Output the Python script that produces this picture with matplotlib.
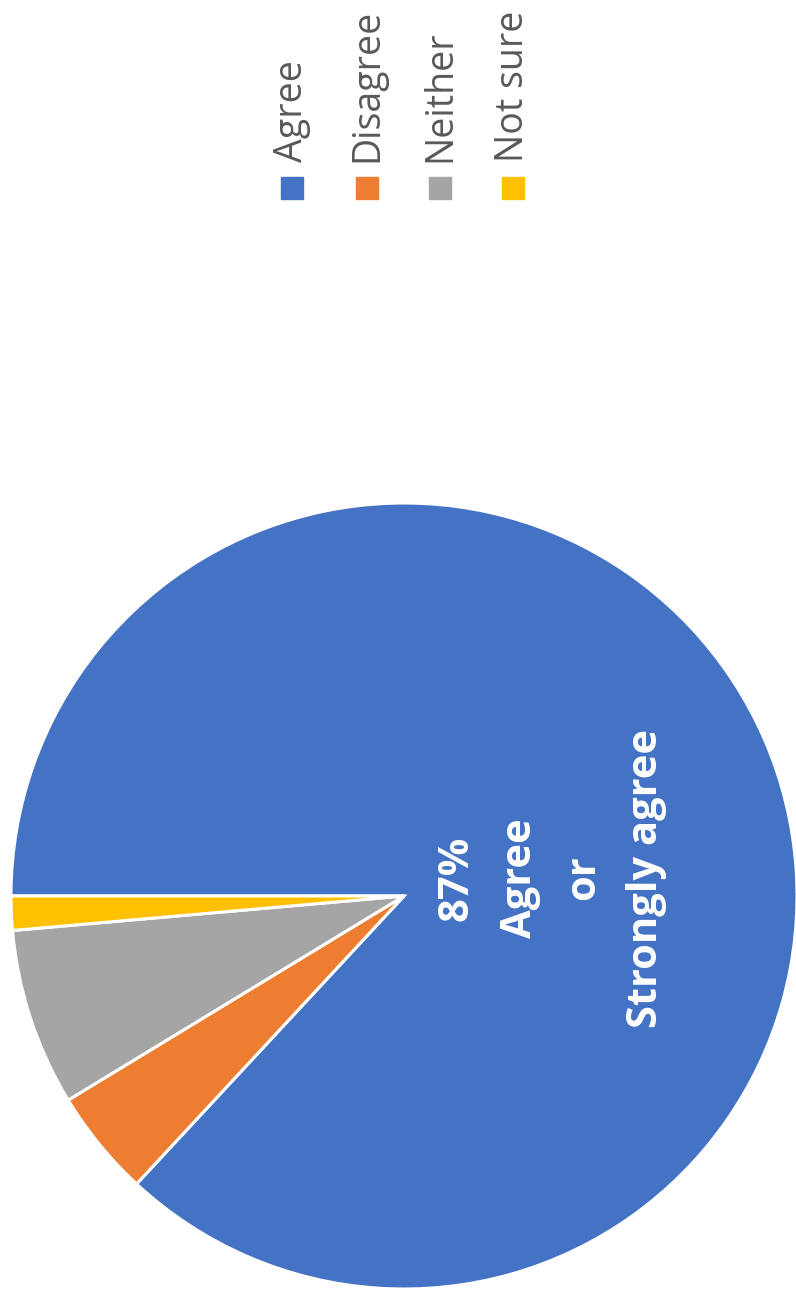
import matplotlib.pyplot as plt
from matplotlib.patches import Rectangle

labels = ['Agree', 'Disagree', 'Neither', 'Not sure']
values = [87, 4.4, 7.3, 1.4]
colors = ['#4472C4', '#ED7D31', '#A5A5A5', '#FFC000']

W, H = 796, 1299
fig = plt.figure(figsize=(W / 100, H / 100), dpi=100)
ax = fig.add_axes([0, 0, 1, 1])

# pie is drawn rotated: starts at 9 o'clock, goes clockwise
cx, cy, r = 404, H - 896, 393
ax.pie(values, colors=colors, startangle=180, counterclock=False,
       center=(cx, cy), radius=r,
       wedgeprops=dict(edgecolor='white', linewidth=2.2))
ax.set_xlim(0, W)
ax.set_ylim(0, H)
ax.set_aspect('equal')
ax.axis('off')

ax.text(552, H - 878, '87%\nAgree\nor\nStrongly agree', rotation=90,
        ha='center', va='center', color='white', fontsize=30,
        fontweight='bold', family='Open Sans', linespacing=1.72,
        multialignment='center')

# legend, rotated like the chart
xs = [292, 367, 440, 513]
for x, lab, col in zip(xs, labels, colors):
    ax.add_patch(Rectangle((x - 11, H - 199), 22, 22, color=col))
    ax.text(x, H - 162, lab, rotation=90, ha='center', va='bottom',
            color='#595959', fontsize=27, family='Open Sans')

fig.savefig('out.png', dpi=100)
